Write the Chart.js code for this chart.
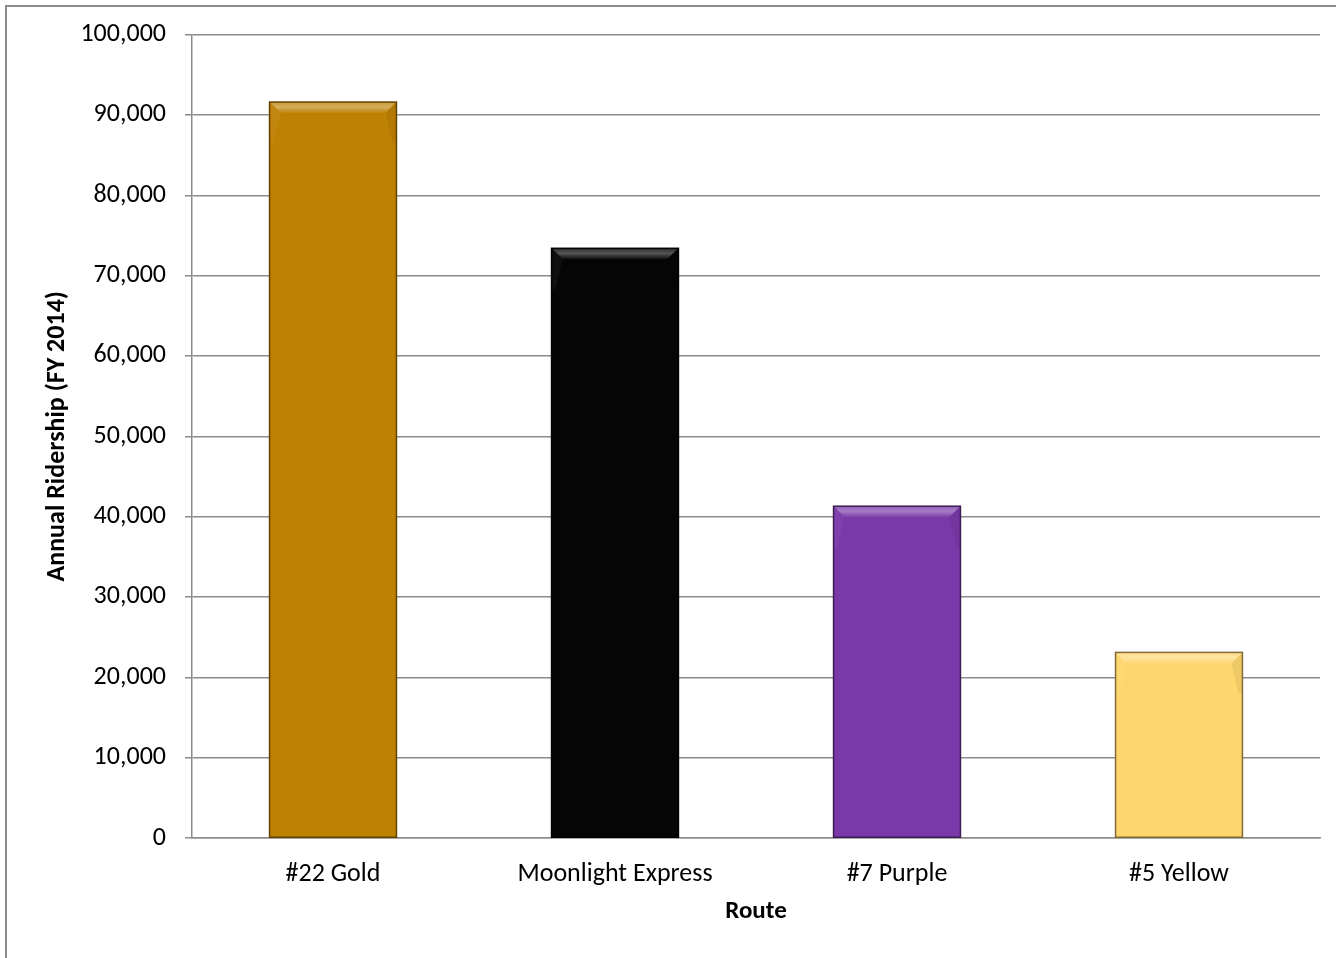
<!DOCTYPE html>
<html><head><meta charset="utf-8">
<script src="https://cdn.jsdelivr.net/npm/chart.js@4"></script>
<style>
html,body{margin:0;padding:0;background:#fff;}
#wrap{position:relative;width:1336px;height:958px;}
#frame{position:absolute;left:5px;top:5px;width:1400px;height:1000px;border-left:2px solid #8c8c8c;border-top:2px solid #8c8c8c;}
canvas{position:absolute;left:0;top:0;}
</style></head><body>
<div id="wrap"><div id="frame"></div><canvas id="c" width="1336" height="958"></canvas></div>
<script>
const categories = ["#22 Gold", "Moonlight Express", "#7 Purple", "#5 Yellow"];
const ridership = [91600, 73400, 41300, 23100];
const barColors = ["#BF8104", "#050505", "#7939A8", "#FFD66E"];
const yTitle = "Annual Ridership (FY 2014)";
const xTitle = "Route";

function shade(hex, amt){
  let r=parseInt(hex.slice(1,3),16),g=parseInt(hex.slice(3,5),16),b=parseInt(hex.slice(5,7),16);
  if(amt>0){r+= (255-r)*amt; g+=(255-g)*amt; b+=(255-b)*amt;}
  else {r*=1+amt; g*=1+amt; b*=1+amt;}
  return `rgb(${Math.round(r)},${Math.round(g)},${Math.round(b)})`;
}
const bevel = {
  id:'bevel',
  afterDatasetsDraw(chart){
    const ctx=chart.ctx;
    const meta=chart.getDatasetMeta(0);
    meta.data.forEach((bar,i)=>{
      const p=bar.getProps(['x','y','base','width'],true);
      const l=p.x-p.width/2, r=p.x+p.width/2, t=p.y, b=p.base;
      const s=11, col=barColors[i];
      const dark = col==="#050505";
      ctx.save();
      let g=ctx.createLinearGradient(0,t,0,t+s);
      g.addColorStop(0,shade(col,dark?0.15:0.2));
      g.addColorStop(0.45,shade(col,dark?0.32:0.35));
      g.addColorStop(1,shade(col,0.03));
      ctx.fillStyle=g;
      ctx.beginPath();ctx.moveTo(l,t);ctx.lineTo(r,t);ctx.lineTo(r-s,t+s);ctx.lineTo(l+s,t+s);ctx.closePath();ctx.fill();
      ctx.fillStyle=shade(col,0.04);
      ctx.beginPath();ctx.moveTo(l,t);ctx.lineTo(l+s,t+s);ctx.lineTo(l+4,t+s+30);ctx.lineTo(l,t+s+30);ctx.closePath();ctx.fill();
      ctx.fillStyle=shade(col,-0.06);
      ctx.beginPath();ctx.moveTo(r,t);ctx.lineTo(r-s,t+s);ctx.lineTo(r-4,t+s+30);ctx.lineTo(r,t+s+30);ctx.closePath();ctx.fill();
      ctx.strokeStyle=shade(col,-0.5);
      ctx.lineWidth=1.5;
      ctx.strokeRect(l,t,r-l,b-t);
      ctx.restore();
    });
  }
};

const FONT = "Carlito, 'Open Sans', sans-serif";
new Chart(document.getElementById('c'),{
  type:'bar',
  data:{labels:categories,datasets:[{data:ridership,backgroundColor:barColors,borderWidth:0,barPercentage:0.9,categoryPercentage:0.5}]},
  options:{
    responsive:false,animation:false,
    layout:{padding:{left:0,top:34,right:16,bottom:0}},
    plugins:{legend:{display:false},tooltip:{enabled:false}},
    scales:{
      y:{min:0,max:100000,
        ticks:{stepSize:10000,color:'#000',padding:19,font:{family:FONT,size:26},
          callback:v=>v.toLocaleString('en-US')},
        grid:{color:'#8c8c8c',lineWidth:1.5,tickLength:7},
        border:{color:'#8c8c8c',width:1.5},
        title:{display:true,text:yTitle,color:'#000',font:{family:FONT,size:26,weight:'bold'},padding:{top:42,bottom:0}},
        afterFit:s=>{s.width=192;}
      },
      x:{
        ticks:{color:'#000',padding:13,font:{family:FONT,size:26}},
        grid:{display:false},
        border:{color:'#8c8c8c',width:1.5},
        title:{display:true,text:xTitle,color:'#000',font:{family:FONT,size:25,weight:'bold'},padding:{top:0,bottom:31}},
        afterFit:s=>{s.height=120;}
      }
    }
  },
  plugins:[bevel]
});
</script>
</body></html>
